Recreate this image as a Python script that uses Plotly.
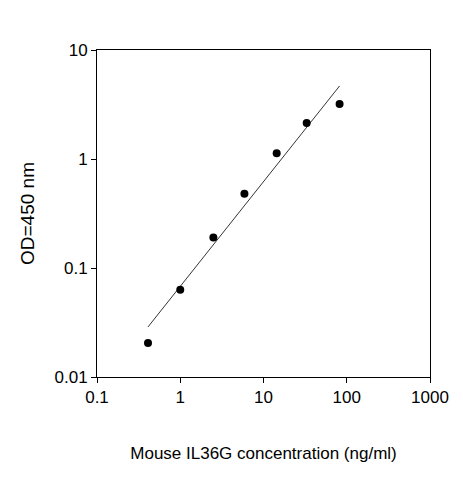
import plotly.graph_objects as go

conc = [0.41, 1.0, 2.5, 5.9, 14.4, 33, 82]
od = [0.0205, 0.063, 0.19, 0.48, 1.13, 2.14, 3.2]
fit_x = [0.41, 82]
fit_y = [0.0288, 4.68]
x_ticks = [0.1, 1, 10, 100, 1000]
x_labels = ["0.1", "1", "10", "100", "1000"]
y_ticks = [0.01, 0.1, 1, 10]
y_labels = ["0.01", "0.1", "1", "10"]

fig = go.Figure()
fig.add_trace(go.Scatter(x=fit_x, y=fit_y, mode="lines",
                         line=dict(color="black", width=0.8)))
fig.add_trace(go.Scatter(x=conc, y=od, mode="markers",
                         marker=dict(color="black", size=8)))

axis_style = dict(type="log", showline=True, mirror=True, linecolor="black",
                  linewidth=1, ticks="outside", ticklen=5, tickcolor="black",
                  showgrid=False, zeroline=False,
                  tickfont=dict(family="Arial", size=17, color="black"))
fig.update_xaxes(range=[-1, 3], tickvals=x_ticks, ticktext=x_labels,
                 title=dict(text="Mouse IL36G concentration (ng/ml)",
                            font=dict(family="Arial", size=17, color="black"),
                            standoff=40),
                 **axis_style)
fig.update_yaxes(range=[-2, 1], tickvals=y_ticks, ticktext=y_labels,
                 title=dict(text="OD=450 nm",
                            font=dict(family="Arial", size=19, color="black"),
                            standoff=14),
                 **axis_style)
fig.update_layout(width=463, height=480, showlegend=False,
                  plot_bgcolor="white", paper_bgcolor="white",
                  margin=dict(l=89, r=41, t=42, b=111))
fig.write_html("out.html")
